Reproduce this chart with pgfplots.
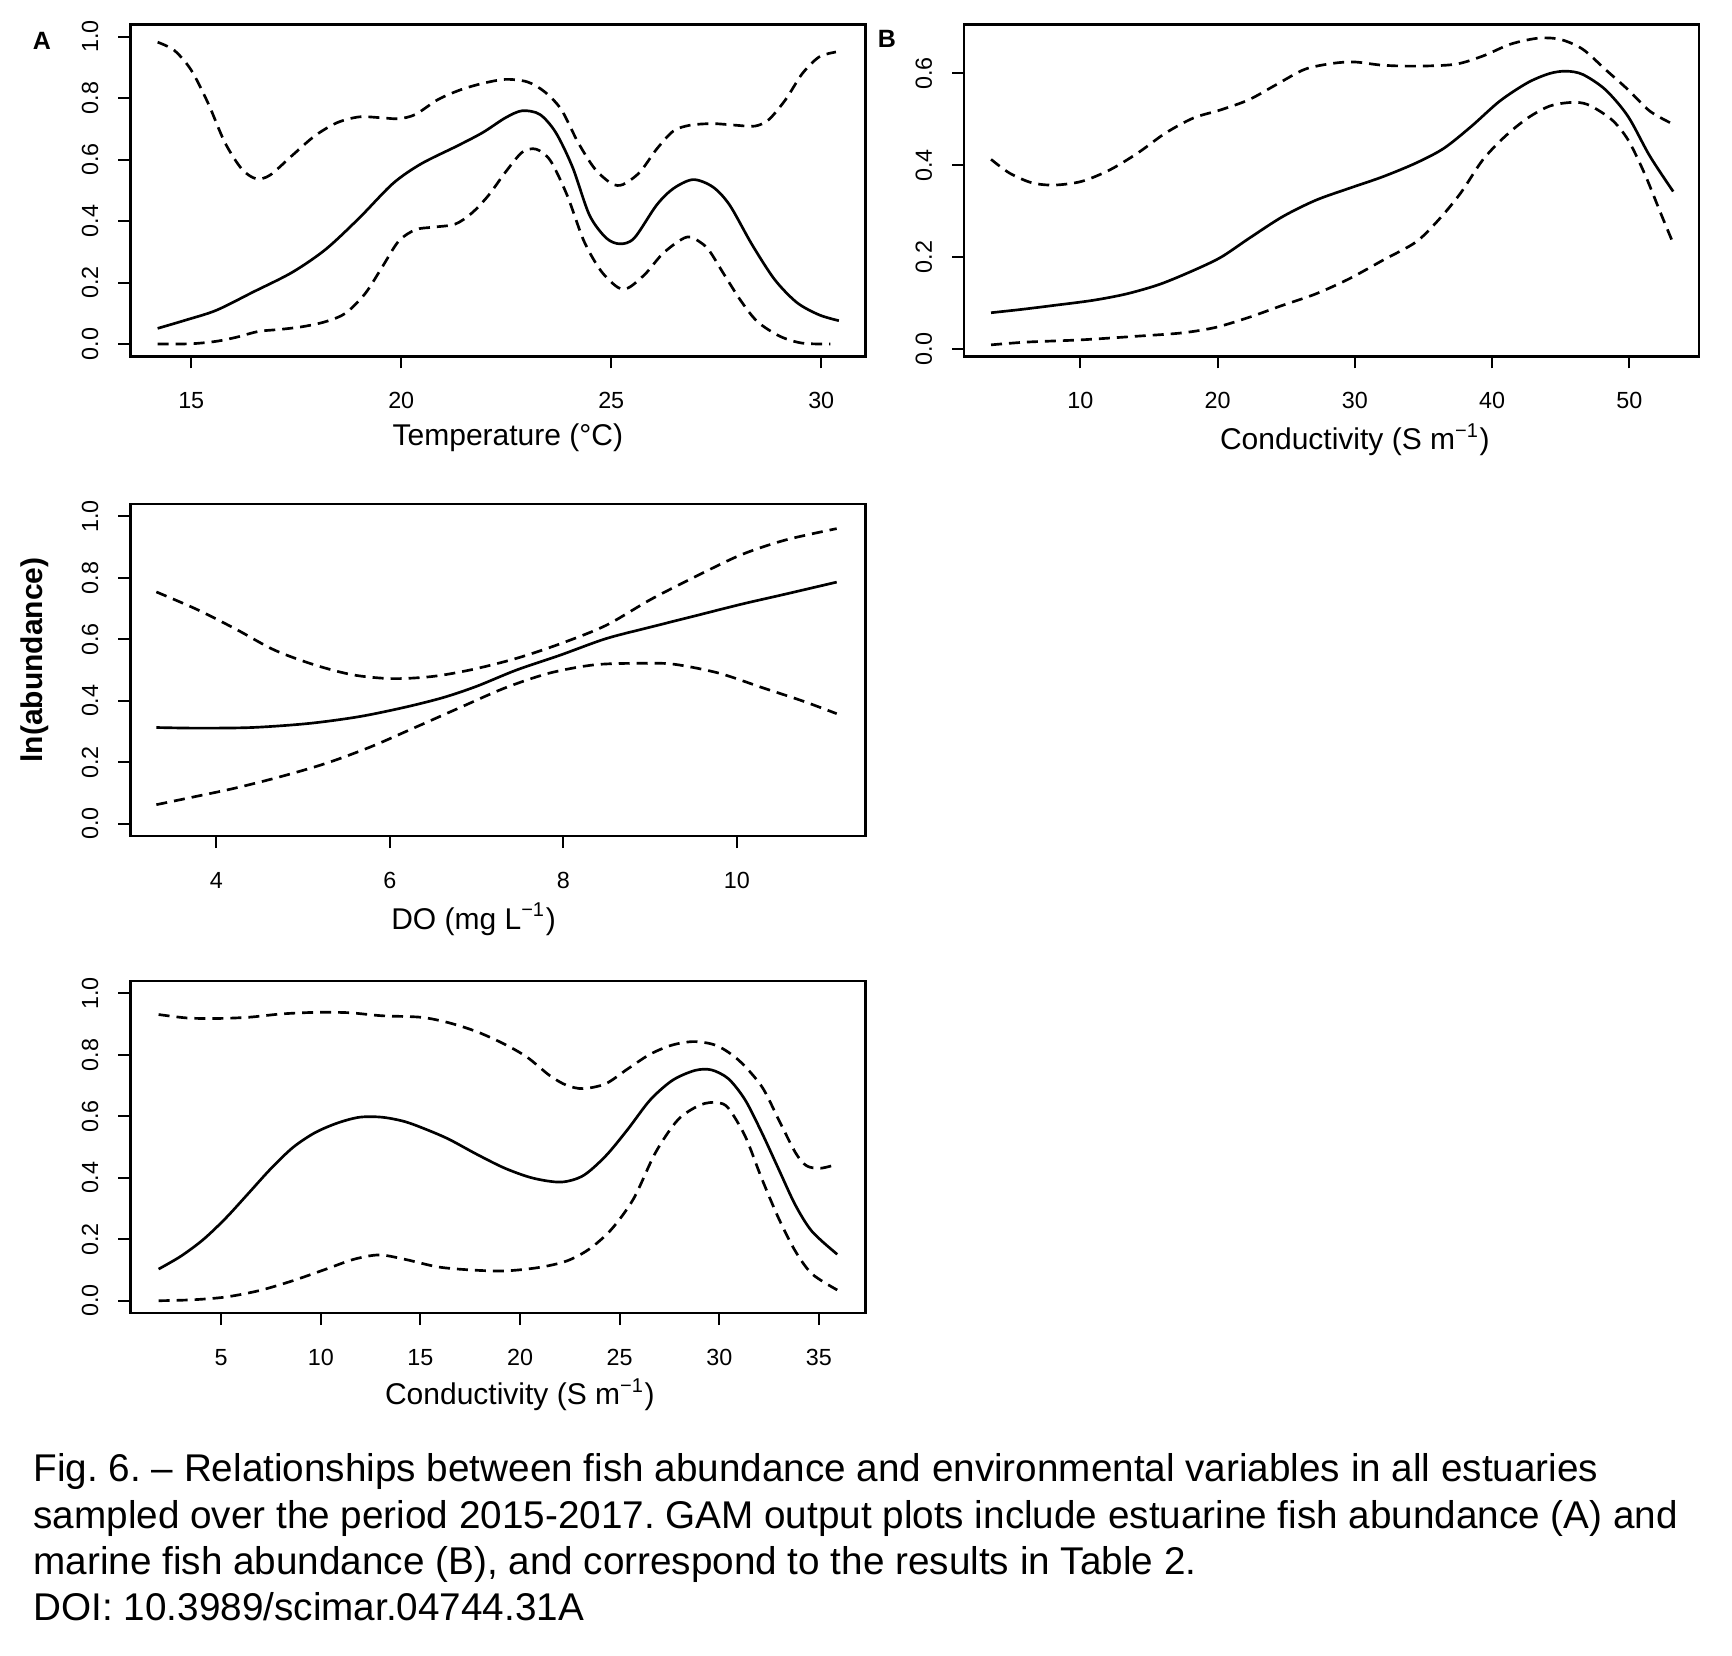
\documentclass[border=0pt]{standalone}
\usepackage{fontspec}
\setmainfont{Liberation Sans}
\usepackage{pgfplots}
\pgfplotsset{compat=1.18}
\frenchspacing

\pgfplotsset{
  rplot/.style={
    scale only axis, width=220.5pt, height=99.6pt,
    axis line style={line width=0.8pt},
    tick style={line width=0.6pt, black},
    tick align=outside, major tick length=3.6pt,
    xtick pos=left, ytick pos=left,
    /pgf/number format/assume math mode=true,
    ticklabel style={font=\fontsize{7}{8}\selectfont},
    xticklabel style={anchor=north, inner sep=0pt, yshift=-7pt},
    yticklabel style={rotate=90, anchor=south, inner sep=0pt, yshift=5.8pt,
      /pgf/number format/.cd, fixed, fixed zerofill, precision=1},
    label style={font=\fontsize{9}{10}\selectfont},
    xlabel style={at={(axis description cs:0.5,0)}, anchor=center, yshift=-24.5pt},
  },
  curve/.style={black, line width=0.8pt, mark=none, smooth, tension=0.5},
  ci/.style={curve, dash pattern=on 3.3pt off 2.1pt},
}

\begin{document}
\begin{tikzpicture}
\path[use as bounding box] (0,0) rectangle (519.6pt,-496.5pt);

% A: temperature
\begin{axis}[rplot, at={(39.1pt,-7.3pt)}, anchor=north west,
  xmin=13.55, xmax=31.05, ymin=-0.04, ymax=1.04,
  xtick={15,20,25,30}, ytick={0,0.2,0.4,0.6,0.8,1},
  xlabel={Temperature (°C)}, xlabel style={xshift=3pt}]
\addplot[curve] coordinates {(14.2,0.051) (14.87,0.078) (15.6,0.11) (16.47,0.169) (17.4,0.233) (18.2,0.308) (19.0,0.41) (19.8,0.522) (20.47,0.586) (21.34,0.645) (21.94,0.688) (22.48,0.736) (22.88,0.759) (23.3,0.747) (23.68,0.688) (24.08,0.575) (24.48,0.42) (24.88,0.345) (25.21,0.326) (25.55,0.345) (26.08,0.452) (26.48,0.506) (26.95,0.535) (27.42,0.511) (27.82,0.452) (28.35,0.324) (28.89,0.21) (29.42,0.135) (29.95,0.095) (30.42,0.076)};
\addplot[ci] coordinates {(14.2,0.982) (14.6,0.955) (15.0,0.891) (15.4,0.784) (15.8,0.656) (16.2,0.57) (16.54,0.538) (16.87,0.549) (17.4,0.613) (17.94,0.677) (18.47,0.72) (19.0,0.739) (19.54,0.736) (19.94,0.733) (20.34,0.747) (20.87,0.795) (21.41,0.827) (21.94,0.848) (22.48,0.861) (23.0,0.853) (23.41,0.821) (23.81,0.763) (24.21,0.656) (24.61,0.57) (25.01,0.522) (25.28,0.519) (25.68,0.559) (26.08,0.634) (26.48,0.693) (26.88,0.712) (27.42,0.717) (27.95,0.712) (28.42,0.709) (28.75,0.73) (29.15,0.795) (29.55,0.88) (29.95,0.934) (30.35,0.95)};
\addplot[ci] coordinates {(14.2,0.0) (15.0,0.001) (15.6,0.009) (16.07,0.022) (16.6,0.041) (17.14,0.048) (17.67,0.057) (18.2,0.073) (18.67,0.1) (19.14,0.164) (19.54,0.249) (19.94,0.335) (20.34,0.372) (20.74,0.38) (21.28,0.39) (21.68,0.426) (22.08,0.484) (22.48,0.559) (22.88,0.624) (23.21,0.634) (23.55,0.597) (23.95,0.484) (24.35,0.335) (24.75,0.239) (25.15,0.185) (25.41,0.183) (25.81,0.228) (26.21,0.292) (26.61,0.335) (26.88,0.348) (27.28,0.313) (27.68,0.228) (28.08,0.142) (28.48,0.073) (29.02,0.025) (29.55,0.003) (30.22,0.0)};
\end{axis}

% B: conductivity, marine
\begin{axis}[rplot, at={(289.2pt,-7.3pt)}, anchor=north west,
  xmin=1.53, xmax=55.08, ymin=-0.016, ymax=0.707,
  xtick={10,20,30,40,50}, ytick={0,0.2,0.4,0.6},
  xlabel={Conductivity (S m\textsuperscript{−1})}, xlabel style={xshift=7pt, yshift=-0.5pt}]
\addplot[curve] coordinates {(3.5,0.079) (5.66,0.086) (8.1,0.095) (10.93,0.106) (13.37,0.12) (15.8,0.141) (18.24,0.171) (20.26,0.2) (22.3,0.241) (24.73,0.288) (27.16,0.324) (29.6,0.35) (32.03,0.375) (34.46,0.405) (36.49,0.437) (38.5,0.485) (40.57,0.54) (42.6,0.58) (44.2,0.6) (45.4,0.605) (46.6,0.598) (48.25,0.565) (49.9,0.507) (51.5,0.42) (53.2,0.343)};
\addplot[ci] coordinates {(3.5,0.413) (4.85,0.383) (6.47,0.362) (8.1,0.357) (10.1,0.365) (12.15,0.39) (14.2,0.427) (16.2,0.47) (18.24,0.503) (20.26,0.521) (22.3,0.543) (24.3,0.576) (26.35,0.609) (28.38,0.622) (30.0,0.625) (32.03,0.618) (34.46,0.616) (37.3,0.62) (39.33,0.638) (41.36,0.664) (43.4,0.677) (45.0,0.674) (46.6,0.653) (48.25,0.609) (49.9,0.565) (51.5,0.518) (53.1,0.491)};
\addplot[ci] coordinates {(3.5,0.009) (6.07,0.015) (10.1,0.02) (14.2,0.028) (17.4,0.035) (19.86,0.047) (22.3,0.069) (24.73,0.095) (27.16,0.12) (29.6,0.153) (32.03,0.193) (34.46,0.233) (36.1,0.281) (37.7,0.339) (39.33,0.412) (40.95,0.463) (42.6,0.503) (44.2,0.529) (45.8,0.537) (47.0,0.532) (48.7,0.5) (49.9,0.456) (51.1,0.383) (52.3,0.295) (53.2,0.23)};
\end{axis}

% C: dissolved oxygen
\begin{axis}[rplot, at={(39.1pt,-151.2pt)}, anchor=north west,
  xmin=3.01, xmax=11.48, ymin=-0.04, ymax=1.04,
  xtick={4,6,8,10}, ytick={0,0.2,0.4,0.6,0.8,1},
  xlabel={DO (mg L\textsuperscript{−1})}, xlabel style={xshift=-7.3pt, yshift=-0.5pt}]
\addplot[curve] coordinates {(3.31,0.313) (3.77,0.311) (4.41,0.313) (5.06,0.326) (5.64,0.348) (6.16,0.378) (6.61,0.41) (7.0,0.447) (7.46,0.5) (7.97,0.549) (8.49,0.602) (9.01,0.64) (9.53,0.677) (10.05,0.714) (10.56,0.747) (11.15,0.786)};
\addplot[ci] coordinates {(3.31,0.754) (3.77,0.698) (4.22,0.634) (4.67,0.565) (5.13,0.517) (5.58,0.484) (6.03,0.472) (6.49,0.479) (6.94,0.501) (7.46,0.538) (7.97,0.586) (8.49,0.645) (9.01,0.73) (9.53,0.805) (10.05,0.875) (10.56,0.923) (11.15,0.96)};
\addplot[ci] coordinates {(3.31,0.062) (3.77,0.089) (4.22,0.116) (4.74,0.153) (5.26,0.196) (5.77,0.249) (6.29,0.313) (6.81,0.378) (7.33,0.442) (7.84,0.49) (8.36,0.517) (8.88,0.522) (9.27,0.519) (9.79,0.49) (10.3,0.442) (10.76,0.399) (11.15,0.358)};
\end{axis}

% D: conductivity, estuarine
\begin{axis}[rplot, at={(39.1pt,-294.3pt)}, anchor=north west,
  xmin=0.44, xmax=37.33, ymin=-0.04, ymax=1.04,
  xtick={5,10,15,20,25,30,35}, ytick={0,0.2,0.4,0.6,0.8,1},
  xlabel={Conductivity (S m\textsuperscript{−1})}, xlabel style={xshift=6.6pt}]
\addplot[curve] coordinates {(1.86,0.103) (2.98,0.145) (4.1,0.199) (5.22,0.268) (6.35,0.348) (7.47,0.428) (8.59,0.498) (9.69,0.546) (10.83,0.578) (11.95,0.597) (13.07,0.597) (14.2,0.583) (15.3,0.557) (16.44,0.525) (17.84,0.476) (19.24,0.431) (20.64,0.399) (22.05,0.386) (23.17,0.407) (24.3,0.471) (25.4,0.557) (26.53,0.653) (27.65,0.717) (28.77,0.749) (29.6,0.751) (30.46,0.722) (31.3,0.653) (32.14,0.546) (32.98,0.428) (33.82,0.311) (34.66,0.225) (35.92,0.151)};
\addplot[ci] coordinates {(1.86,0.931) (3.26,0.92) (4.66,0.918) (6.35,0.922) (8.03,0.933) (9.71,0.938) (11.39,0.937) (13.07,0.927) (15.04,0.922) (16.44,0.904) (17.84,0.875) (19.24,0.834) (20.36,0.792) (21.48,0.733) (22.33,0.701) (23.17,0.69) (24.3,0.706) (25.4,0.754) (26.53,0.802) (27.65,0.832) (28.77,0.843) (29.9,0.829) (31.0,0.781) (32.14,0.696) (32.98,0.589) (33.82,0.482) (34.38,0.439) (35.08,0.431) (35.92,0.444)};
\addplot[ci] coordinates {(1.86,0.0) (3.54,0.003) (5.22,0.012) (6.91,0.033) (8.59,0.065) (10.27,0.103) (11.67,0.135) (12.93,0.149) (14.2,0.135) (15.88,0.11) (17.56,0.1) (19.24,0.097) (20.93,0.108) (22.33,0.129) (23.45,0.167) (24.57,0.231) (25.7,0.332) (26.8,0.482) (27.93,0.589) (29.05,0.637) (29.9,0.645) (30.46,0.626) (31.3,0.535) (32.14,0.396) (32.98,0.268) (33.82,0.161) (34.66,0.087) (35.92,0.035)};
\end{axis}

% shared y label and panel letters
\node[rotate=90, font=\fontsize{9}{10}\selectfont\bfseries] at (10.5pt,-198pt) {ln(abundance)};
\node[font=\fontsize{7.5}{9}\selectfont\bfseries] at (12.6pt,-12.3pt) {A};
\node[font=\fontsize{7.5}{9}\selectfont\bfseries] at (266.1pt,-11.7pt) {B};

% caption
\begin{scope}[every node/.style={anchor=base west, inner sep=0pt, font=\fontsize{11.6}{13}\selectfont}]
\node at (9.9pt,-444.3pt) {Fig. 6. – Relationships between fish abundance and environmental variables in all estuaries};
\node at (9.9pt,-458.4pt) {sampled over the period 2015-2017. GAM output plots include estuarine fish abundance (A) and};
\node at (9.9pt,-472.2pt) {marine fish abundance (B), and correspond to the results in Table 2.};
\node at (9.9pt,-486.0pt) {DOI: 10.3989/scimar.04744.31A};
\end{scope}
\end{tikzpicture}
\end{document}
